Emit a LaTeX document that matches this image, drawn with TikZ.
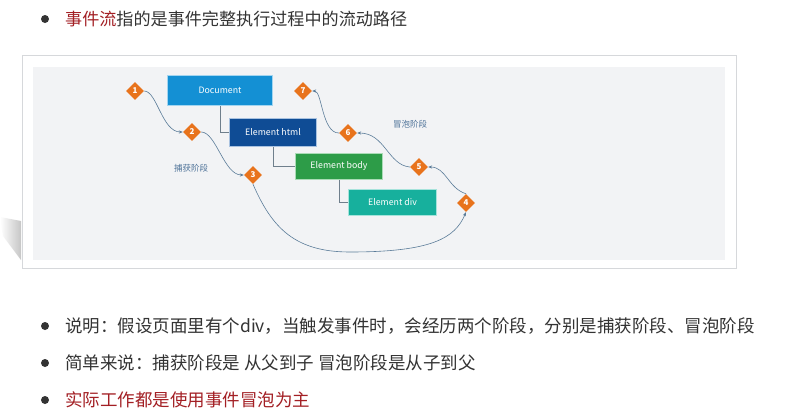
\documentclass[tikz,border=0pt]{standalone}
\usepackage{fontspec}
\setmainfont{Noto Sans CJK SC}
\usetikzlibrary{shapes.geometric,arrows.meta}
\definecolor{txt}{HTML}{333333}
\definecolor{redt}{HTML}{A31F24}
\definecolor{panel}{HTML}{F2F3F5}
\definecolor{frameline}{HTML}{D6D8DB}
\definecolor{orng}{HTML}{E8731C}
\definecolor{flow}{HTML}{5B7C99}
\definecolor{tree}{HTML}{6F7F8C}
\definecolor{lbl}{HTML}{4F7399}
\definecolor{docf}{HTML}{1490D4}\definecolor{docd}{HTML}{A3D5F0}
\definecolor{htmlf}{HTML}{0F4C95}\definecolor{htmld}{HTML}{A9C2E0}
\definecolor{bodyf}{HTML}{2D9C48}\definecolor{bodyd}{HTML}{AADBB6}
\definecolor{divf}{HTML}{17B09D}\definecolor{divd}{HTML}{A6E3DB}
\tikzset{
  bigtext/.style={font=\fontsize{17.5}{20}\selectfont, text=txt, anchor=base west, inner sep=0},
  bul/.style={circle, fill=txt, minimum size=8pt, inner sep=0},
  elbox/.style={rectangle, line width=1.6pt, text=white, font=\fontsize{8.8}{10}\selectfont, inner sep=0},
  num/.style={diamond, fill=orng, text=white, minimum size=18pt, inner sep=0, font=\fontsize{8}{9}\selectfont\bfseries},
  flowline/.style={draw=flow, line width=0.6pt, -{Stealth[length=4pt,width=3.2pt]}},
  treeline/.style={draw=tree, line width=0.6pt},
  phase/.style={text=lbl, font=\fontsize{8.5}{10}\selectfont, inner sep=0}
}
\begin{document}
\begin{tikzpicture}[x=1pt,y=-1pt]
\useasboundingbox (0,0) rectangle (804,410);
\fill[white] (0,0) rectangle (804,410);
% shadow at left
\shade[left color=white, right color=gray!45] (0,217) -- (21,221) -- (21,260) -- (3,236) -- cycle;
% frame and panel
\node[draw=frameline, fill=white, line width=0.8pt, minimum width=714pt, minimum height=213pt, inner sep=0, anchor=north west] (frame) at (22,55) {};
\node[fill=panel, minimum width=692pt, minimum height=193pt, inner sep=0, anchor=north west] (panel) at (33,67) {};
% top line
\node[bul] (b0) at (45,19) {};
\node[bigtext, font=\fontsize{17.1}{20}\selectfont] (t0) at (65,25.5) {\textcolor{redt}{事件流}指的是事件完整执行过程中的流动路径};
% boxes
\node[elbox, fill=docf, draw=docd, minimum width=105pt, minimum height=30pt] (doc) at (220,90.5) {Document};
\node[elbox, fill=htmlf, draw=htmld, minimum width=87pt, minimum height=28pt] (html) at (273,132.5) {Element html};
\node[elbox, fill=bodyf, draw=bodyd, minimum width=87pt, minimum height=26pt] (body) at (339,166.5) {Element body};
\node[elbox, fill=divf, draw=divd, minimum width=88pt, minimum height=26pt] (div) at (392.5,202.5) {Element div};
\draw[treeline] (doc.south) |- (html.west);
\draw[treeline] (html.south) |- (body.west);
\draw[treeline] (body.south) |- (div.west);
% diamonds
\node[num] (d1) at (135,91) {1};
\node[num] (d2) at (192,132) {2};
\node[num] (d3) at (253,175) {3};
\node[num] (d4) at (466,203) {4};
\node[num] (d5) at (419,167) {5};
\node[num] (d6) at (348,133) {6};
\node[num] (d7) at (303,91) {7};
% flows
\draw[flowline] (d1.east) .. controls (157,91) and (162,132) .. (d2.west);
\draw[flowline] (d2.east) .. controls (216,132) and (224,175) .. (d3.west);
\coordinate (bot) at (350,252);
\draw[flowline] (d3.south) .. controls (272,228) and (295,252) .. (bot) .. controls (432,252) and (455,238) .. (d4.south);
\draw[flowline] (d4.north) .. controls (448,188) and (446,167) .. (d5.east);
\draw[flowline] (d5.west) .. controls (388,165) and (385,133) .. (d6.east);
\draw[flowline] (d6.west) .. controls (322,133) and (322,91) .. (d7.east);
% phase labels
\node[phase] (cap) at (191,168) {捕获阶段};
\node[phase] (bub) at (410,124) {冒泡阶段};
% bottom bullets
\node[bul] (b1) at (45,326) {};
\node[bigtext] (t1) at (65,332.5) {说明：假设页面里有个div，当触发事件时，会经历两个阶段，分别是捕获阶段、冒泡阶段};
\node[bul] (b2) at (45,363) {};
\node[bigtext] (t2) at (65,369.5) {简单来说：捕获阶段是 从父到子 冒泡阶段是从子到父};
\node[bul] (b3) at (45,400) {};
\node[bigtext, text=redt] (t3) at (65,406.5) {实际工作都是使用事件冒泡为主};
\end{tikzpicture}
\end{document}
